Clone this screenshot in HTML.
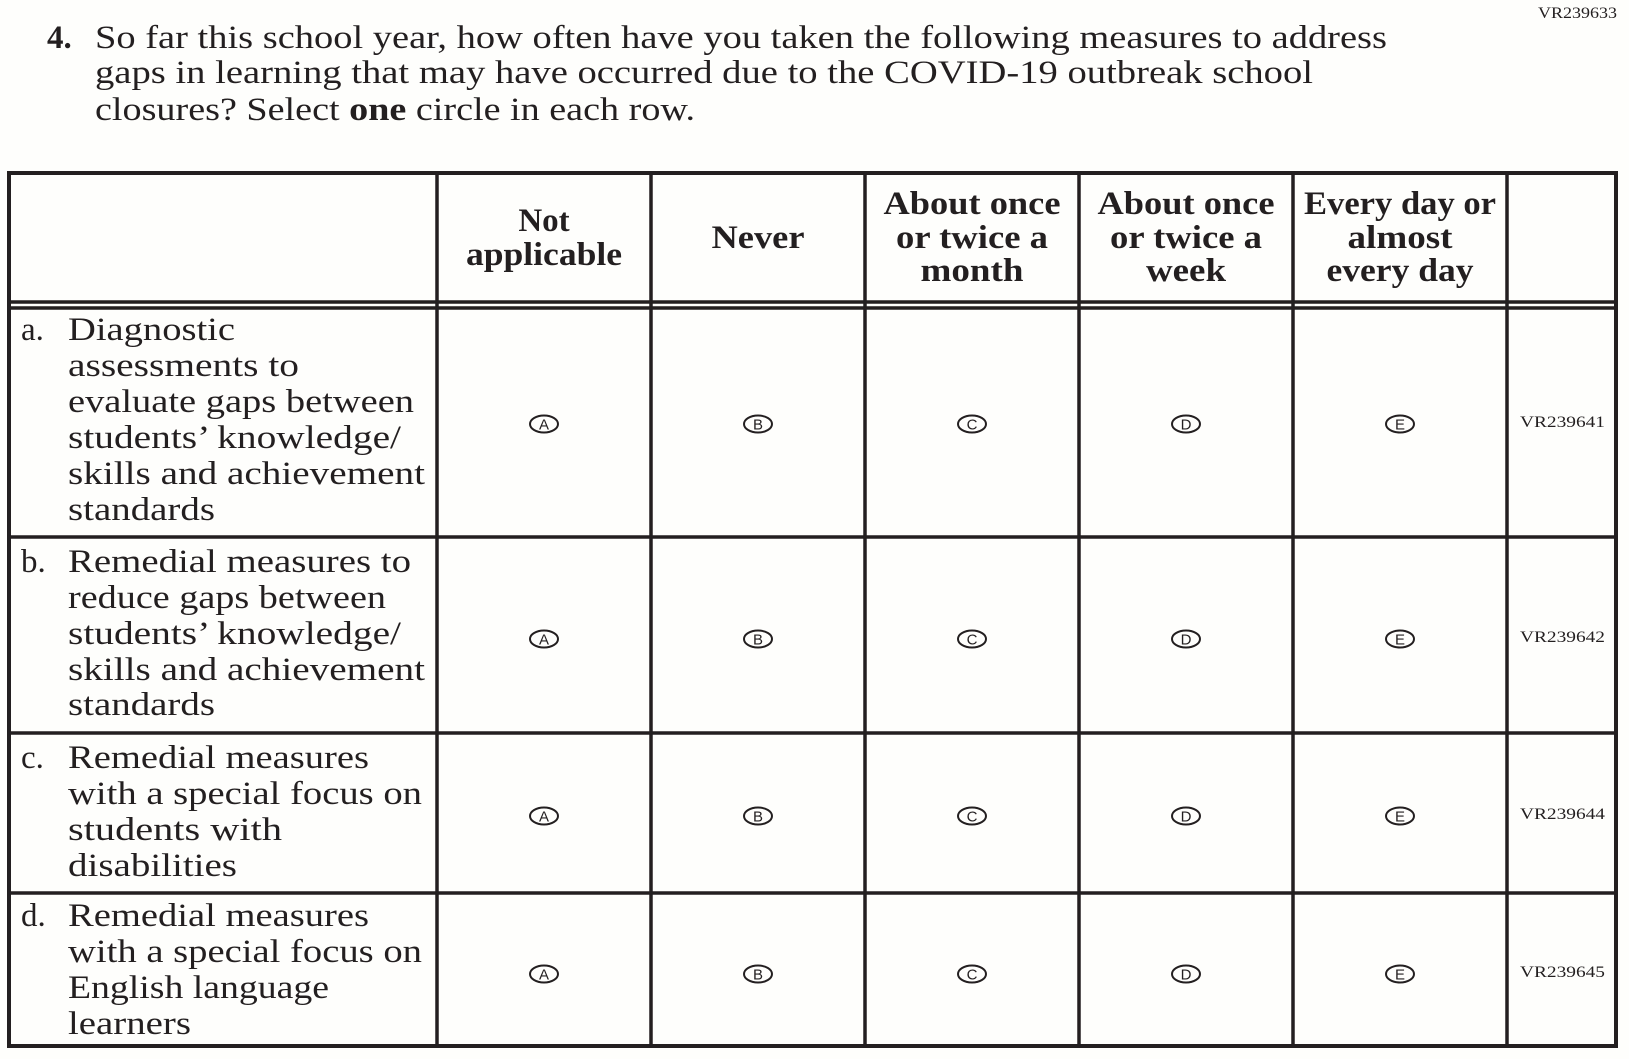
<!DOCTYPE html>
<html><head><meta charset="utf-8"><style>
html,body{margin:0;padding:0;background:#fefefc;}
svg{display:block;}
text{font-family:"Liberation Serif",serif;fill:#231f20;}
.t{font-size:33px;}
.h{font-size:33px;font-weight:bold;text-anchor:middle;}
.c{font-family:"Liberation Sans",sans-serif;font-size:15px;text-anchor:middle;}
.v{font-size:16px;}
</style></head><body>
<svg width="1629" height="1059" viewBox="0 0 1629 1059" xmlns="http://www.w3.org/2000/svg">
<rect width="1629" height="1059" fill="#fefefc"/>
<text class="v" x="1538" y="18" textLength="79" lengthAdjust="spacingAndGlyphs">VR239633</text>
<text class="t" x="47" y="48" font-weight="bold">4.</text>
<text class="t" x="95" y="48" textLength="1292" lengthAdjust="spacingAndGlyphs">So far this school year, how often have you taken the following measures to address</text>
<text class="t" x="95" y="83" textLength="1218" lengthAdjust="spacingAndGlyphs">gaps in learning that may have occurred due to the COVID-19 outbreak school</text>
<text class="t" x="95" y="120" textLength="600" lengthAdjust="spacingAndGlyphs">closures? Select <tspan font-weight="bold">one</tspan> circle in each row.</text>

<g stroke="#231f20" fill="none">
<rect x="9" y="173" width="1607" height="873" stroke-width="4"/>
<g stroke-width="3.5">
<line x1="437" y1="173" x2="437" y2="1046"/>
<line x1="651" y1="173" x2="651" y2="1046"/>
<line x1="865" y1="173" x2="865" y2="1046"/>
<line x1="1079" y1="173" x2="1079" y2="1046"/>
<line x1="1293" y1="173" x2="1293" y2="1046"/>
<line x1="1507" y1="173" x2="1507" y2="1046"/>
<line x1="9" y1="302" x2="1616" y2="302"/>
<line x1="9" y1="308" x2="1616" y2="308"/>
<line x1="9" y1="537" x2="1616" y2="537"/>
<line x1="9" y1="733" x2="1616" y2="733"/>
<line x1="9" y1="893" x2="1616" y2="893"/>
</g>
</g>

<text class="h" x="544" y="231">Not</text>
<text class="h" x="544" y="265" textLength="156" lengthAdjust="spacingAndGlyphs">applicable</text>
<text class="h" x="758" y="248" textLength="93" lengthAdjust="spacingAndGlyphs">Never</text>
<text class="h" x="972" y="214" textLength="177" lengthAdjust="spacingAndGlyphs">About once</text>
<text class="h" x="972" y="248" textLength="152" lengthAdjust="spacingAndGlyphs">or twice a</text>
<text class="h" x="972" y="281" textLength="103" lengthAdjust="spacingAndGlyphs">month</text>
<text class="h" x="1186" y="214" textLength="177" lengthAdjust="spacingAndGlyphs">About once</text>
<text class="h" x="1186" y="248" textLength="152" lengthAdjust="spacingAndGlyphs">or twice a</text>
<text class="h" x="1186" y="281" textLength="80" lengthAdjust="spacingAndGlyphs">week</text>
<text class="h" x="1400" y="214" textLength="192" lengthAdjust="spacingAndGlyphs">Every day or</text>
<text class="h" x="1400" y="248" textLength="105" lengthAdjust="spacingAndGlyphs">almost</text>
<text class="h" x="1400" y="281" textLength="147" lengthAdjust="spacingAndGlyphs">every day</text>

<g class="t">
<text class="t" x="21" y="340">a.</text>
<text class="t" x="68" y="340" textLength="167" lengthAdjust="spacingAndGlyphs">Diagnostic</text>
<text class="t" x="68" y="376" textLength="231" lengthAdjust="spacingAndGlyphs">assessments to</text>
<text class="t" x="68" y="412" textLength="346" lengthAdjust="spacingAndGlyphs">evaluate gaps between</text>
<text class="t" x="68" y="448" textLength="333" lengthAdjust="spacingAndGlyphs">students’ knowledge/</text>
<text class="t" x="68" y="484" textLength="357" lengthAdjust="spacingAndGlyphs">skills and achievement</text>
<text class="t" x="68" y="520" textLength="147" lengthAdjust="spacingAndGlyphs">standards</text>

<text class="t" x="21" y="572">b.</text>
<text class="t" x="68" y="572" textLength="343" lengthAdjust="spacingAndGlyphs">Remedial measures to</text>
<text class="t" x="68" y="608" textLength="318" lengthAdjust="spacingAndGlyphs">reduce gaps between</text>
<text class="t" x="68" y="644" textLength="333" lengthAdjust="spacingAndGlyphs">students’ knowledge/</text>
<text class="t" x="68" y="680" textLength="357" lengthAdjust="spacingAndGlyphs">skills and achievement</text>
<text class="t" x="68" y="715" textLength="147" lengthAdjust="spacingAndGlyphs">standards</text>

<text class="t" x="21" y="768">c.</text>
<text class="t" x="68" y="768" textLength="301" lengthAdjust="spacingAndGlyphs">Remedial measures</text>
<text class="t" x="68" y="804" textLength="354" lengthAdjust="spacingAndGlyphs">with a special focus on</text>
<text class="t" x="68" y="840" textLength="214" lengthAdjust="spacingAndGlyphs">students with</text>
<text class="t" x="68" y="876" textLength="169" lengthAdjust="spacingAndGlyphs">disabilities</text>

<text class="t" x="21" y="926">d.</text>
<text class="t" x="68" y="926" textLength="301" lengthAdjust="spacingAndGlyphs">Remedial measures</text>
<text class="t" x="68" y="962" textLength="354" lengthAdjust="spacingAndGlyphs">with a special focus on</text>
<text class="t" x="68" y="998" textLength="261" lengthAdjust="spacingAndGlyphs">English language</text>
<text class="t" x="68" y="1034" textLength="123" lengthAdjust="spacingAndGlyphs">learners</text>
</g>

<g>
<g transform="translate(0,424)">
<ellipse cx="544" cy="0" rx="14" ry="8.5" fill="none" stroke="#231f20" stroke-width="2"/><text class="c" x="544" y="5.5">A</text>
<ellipse cx="758" cy="0" rx="14" ry="8.5" fill="none" stroke="#231f20" stroke-width="2"/><text class="c" x="758" y="5.5">B</text>
<ellipse cx="972" cy="0" rx="14" ry="8.5" fill="none" stroke="#231f20" stroke-width="2"/><text class="c" x="972" y="5.5">C</text>
<ellipse cx="1186" cy="0" rx="14" ry="8.5" fill="none" stroke="#231f20" stroke-width="2"/><text class="c" x="1186" y="5.5">D</text>
<ellipse cx="1400" cy="0" rx="14" ry="8.5" fill="none" stroke="#231f20" stroke-width="2"/><text class="c" x="1400" y="5.5">E</text>
<text class="v" x="1520" y="3" textLength="85" lengthAdjust="spacingAndGlyphs">VR239641</text>
</g>
<g transform="translate(0,639)">
<ellipse cx="544" cy="0" rx="14" ry="8.5" fill="none" stroke="#231f20" stroke-width="2"/><text class="c" x="544" y="5.5">A</text>
<ellipse cx="758" cy="0" rx="14" ry="8.5" fill="none" stroke="#231f20" stroke-width="2"/><text class="c" x="758" y="5.5">B</text>
<ellipse cx="972" cy="0" rx="14" ry="8.5" fill="none" stroke="#231f20" stroke-width="2"/><text class="c" x="972" y="5.5">C</text>
<ellipse cx="1186" cy="0" rx="14" ry="8.5" fill="none" stroke="#231f20" stroke-width="2"/><text class="c" x="1186" y="5.5">D</text>
<ellipse cx="1400" cy="0" rx="14" ry="8.5" fill="none" stroke="#231f20" stroke-width="2"/><text class="c" x="1400" y="5.5">E</text>
<text class="v" x="1520" y="3" textLength="85" lengthAdjust="spacingAndGlyphs">VR239642</text>
</g>
<g transform="translate(0,816)">
<ellipse cx="544" cy="0" rx="14" ry="8.5" fill="none" stroke="#231f20" stroke-width="2"/><text class="c" x="544" y="5.5">A</text>
<ellipse cx="758" cy="0" rx="14" ry="8.5" fill="none" stroke="#231f20" stroke-width="2"/><text class="c" x="758" y="5.5">B</text>
<ellipse cx="972" cy="0" rx="14" ry="8.5" fill="none" stroke="#231f20" stroke-width="2"/><text class="c" x="972" y="5.5">C</text>
<ellipse cx="1186" cy="0" rx="14" ry="8.5" fill="none" stroke="#231f20" stroke-width="2"/><text class="c" x="1186" y="5.5">D</text>
<ellipse cx="1400" cy="0" rx="14" ry="8.5" fill="none" stroke="#231f20" stroke-width="2"/><text class="c" x="1400" y="5.5">E</text>
<text class="v" x="1520" y="3" textLength="85" lengthAdjust="spacingAndGlyphs">VR239644</text>
</g>
<g transform="translate(0,974)">
<ellipse cx="544" cy="0" rx="14" ry="8.5" fill="none" stroke="#231f20" stroke-width="2"/><text class="c" x="544" y="5.5">A</text>
<ellipse cx="758" cy="0" rx="14" ry="8.5" fill="none" stroke="#231f20" stroke-width="2"/><text class="c" x="758" y="5.5">B</text>
<ellipse cx="972" cy="0" rx="14" ry="8.5" fill="none" stroke="#231f20" stroke-width="2"/><text class="c" x="972" y="5.5">C</text>
<ellipse cx="1186" cy="0" rx="14" ry="8.5" fill="none" stroke="#231f20" stroke-width="2"/><text class="c" x="1186" y="5.5">D</text>
<ellipse cx="1400" cy="0" rx="14" ry="8.5" fill="none" stroke="#231f20" stroke-width="2"/><text class="c" x="1400" y="5.5">E</text>
<text class="v" x="1520" y="3" textLength="85" lengthAdjust="spacingAndGlyphs">VR239645</text>
</g>
</g>
</svg>
</body></html>
